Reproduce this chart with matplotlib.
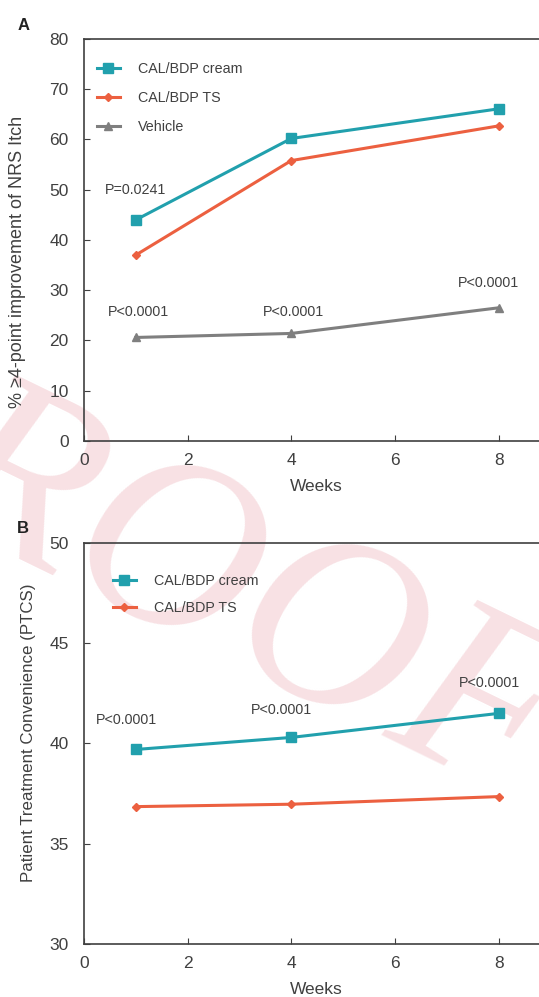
import numpy as np
import matplotlib
matplotlib.use('Agg')
from matplotlib import pyplot as plt

plt.rcParams['font.family'] = ['Liberation Sans', 'DejaVu Sans']

# panel A: % with >=4-point improvement of NRS itch
weeks = [1, 4, 8]
itch_cream = [44.0, 60.2, 66.1]
itch_ts = [37.0, 55.8, 62.7]
itch_vehicle = [20.6, 21.4, 26.5]
itch_pvals = ['P<0.0001', 'P<0.0001', 'P<0.0001']
itch_pval_first = 'P=0.0241'

# panel B: PTCS
ptcs_cream = [39.7, 40.3, 41.5]
ptcs_ts = [36.85, 36.97, 37.35]
ptcs_pvals = ['P<0.0001', 'P<0.0001', 'P<0.0001']

teal = '#21a0ad'
orange = '#ec6040'
grey = '#7f7f7f'
txt = '#404040'

fig = plt.figure(figsize=(5.39, 9.97), dpi=100)

# watermark behind everything
fig.text(0.33, 0.43, 'PROOF', fontsize=180, family='Liberation Serif', style='italic',
         color='#f8e1e4', rotation=-26, ha='center', va='center', zorder=-10)

axA = fig.add_axes([0.1558, 0.5577, 0.8442, 0.4032])
axB = fig.add_axes([0.1558, 0.0532, 0.8442, 0.4022])


def style_axes(ax):
    ax.set_facecolor('none')
    ax.spines['right'].set_visible(False)
    for s in ['left', 'top', 'bottom']:
        ax.spines[s].set_color(txt)
        ax.spines[s].set_linewidth(1.2)
    ax.tick_params(direction='in', length=4, width=0.8, colors=txt, labelsize=12.5)
    ax.tick_params(axis='y', pad=11)
    ax.tick_params(axis='x', pad=9)
    ax.set_xlim(0, 8.78)
    ax.set_xticks([0, 2, 4, 6, 8])
    ax.set_xlabel('Weeks', fontsize=12.5, color=txt, va='center')
    ax.xaxis.set_label_coords(0.511, -0.114)


# ---- A ----
axA.plot(weeks, itch_cream, '-s', color=teal, lw=2.2, ms=6.5, label='CAL/BDP cream')
axA.plot(weeks, itch_ts, '-D', color=orange, lw=2.2, ms=4.5, label='CAL/BDP TS')
axA.plot(weeks, itch_vehicle, '-^', color=grey, lw=2.2, ms=6, label='Vehicle')
axA.set_ylim(0, 80)
axA.set_yticks(range(0, 81, 10))
style_axes(axA)
axA.set_ylabel('% \u22654-point improvement of NRS Itch', fontsize=13, color=txt, va='center')
axA.yaxis.set_label_coords(-0.147, 0.445)
axA.legend(loc='upper left', bbox_to_anchor=(0.0, 0.975), frameon=False, fontsize=10.3,
           labelcolor=txt, handlelength=1.6, handletextpad=1.25, labelspacing=1.05)

axA.text(weeks[0], itch_cream[0] + 6.0, itch_pval_first, ha='center', va='center', fontsize=10.3, color=txt)
vehicle_off = [5.0, 4.2, 5.0]
vehicle_dx = [0.05, 0.04, -0.2]
for i, w in enumerate(weeks):
    axA.text(w + vehicle_dx[i], itch_vehicle[i] + vehicle_off[i], itch_pvals[i],
             ha='center', va='center', fontsize=10.3, color=txt)
fig.text(18 / 539, 1 - 30 / 997, 'A', fontsize=12, fontweight='bold', color='#222222')

# ---- B ----
axB.plot(weeks, ptcs_cream, '-s', color=teal, lw=2.2, ms=6.5, label='CAL/BDP cream')
axB.plot(weeks, ptcs_ts, '-D', color=orange, lw=2.2, ms=4.5, label='CAL/BDP TS')
axB.set_ylim(30, 50)
axB.set_yticks(range(30, 51, 5))
style_axes(axB)
axB.set_ylabel('Patient Treatment Convenience (PTCS)', fontsize=12.2, color=txt, va='center')
axB.yaxis.set_label_coords(-0.123, 0.527)
axB.legend(loc='upper left', bbox_to_anchor=(0.035, 0.955), frameon=False, fontsize=10.3,
           labelcolor=txt, handlelength=1.6, handletextpad=1.25, labelspacing=0.95)

ptcs_off = [1.45, 1.35, 1.5]
for i, w in enumerate(weeks):
    axB.text(w - 0.18, ptcs_cream[i] + ptcs_off[i], ptcs_pvals[i],
             ha='center', va='center', fontsize=10.3, color=txt)
fig.text(17 / 539, 1 - 533 / 997, 'B', fontsize=12, fontweight='bold', color='#222222')

fig.savefig('out.png', dpi=100)
